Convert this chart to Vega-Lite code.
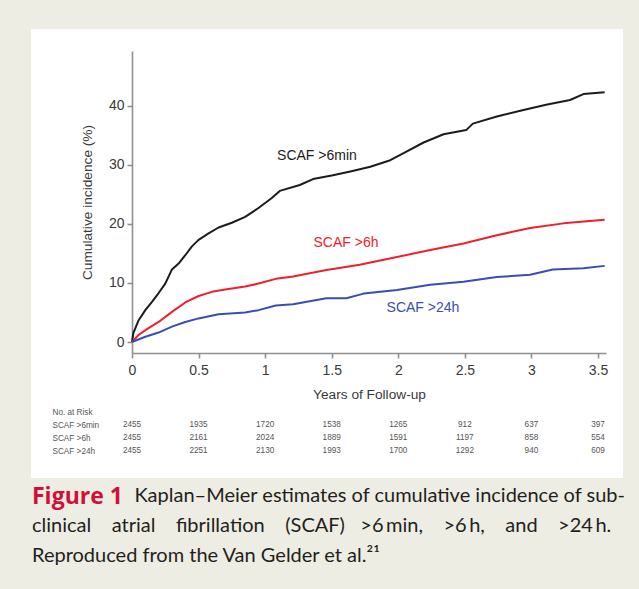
{
  "$schema": "https://vega.github.io/schema/vega-lite/v6.json",
  "width": 592,
  "height": 449,
  "autosize": {"type": "none"},
  "padding": {"left": 31, "top": 29, "right": 16, "bottom": 111},
  "background": "#EEEDE3",
  "config": {
    "view": {"fill": "white", "stroke": null},
    "font": "Liberation Sans"
  },
  "title": {
    "text": "Figure 1",
    "subtitle": [
      "\u200b\u00a0\u00a0\u00a0\u00a0\u00a0\u00a0\u00a0\u00a0\u00a0\u00a0\u00a0\u00a0\u00a0\u00a0\u00a0\u00a0\u00a0\u00a0\u00a0\u00a0Kaplan–Meier estimates of cumulative incidence of sub-",
      "clinical\u00a0\u00a0\u00a0\u00a0atrial\u00a0\u00a0\u00a0\u00a0fibrillation\u00a0\u00a0\u00a0\u00a0(SCAF)\u00a0\u00a0\u00a0>6\u2009min,\u00a0\u00a0\u00a0\u00a0>6\u2009h,\u00a0\u00a0\u00a0\u00a0and\u00a0\u00a0\u00a0\u00a0>24\u2009h.",
      "Reproduced from the Van Gelder et al.²¹"
    ],
    "orient": "bottom",
    "anchor": "start",
    "frame": "group",
    "offset": 8,
    "font": "Open Sans",
    "fontSize": 23,
    "fontWeight": "bold",
    "color": "#D0103A",
    "subtitleFont": "Lato",
    "subtitleFontSize": 20,
    "subtitleColor": "#231F20",
    "subtitleLineHeight": 30,
    "subtitlePadding": -23,
    "dx": 1
  },
  "datasets": {
    "curves": [
      {"series": ">6min", "years": 0, "pct": 0},
      {"series": ">6min", "years": 0.01, "pct": 1.5},
      {"series": ">6min", "years": 0.05, "pct": 3.7},
      {"series": ">6min", "years": 0.1, "pct": 5.4},
      {"series": ">6min", "years": 0.15, "pct": 6.8},
      {"series": ">6min", "years": 0.2, "pct": 8.3},
      {"series": ">6min", "years": 0.25, "pct": 9.9},
      {"series": ">6min", "years": 0.3, "pct": 12.3},
      {"series": ">6min", "years": 0.35, "pct": 13.3},
      {"series": ">6min", "years": 0.4, "pct": 14.7},
      {"series": ">6min", "years": 0.45, "pct": 16.2},
      {"series": ">6min", "years": 0.5, "pct": 17.3},
      {"series": ">6min", "years": 0.575, "pct": 18.4},
      {"series": ">6min", "years": 0.65, "pct": 19.4},
      {"series": ">6min", "years": 0.75, "pct": 20.2},
      {"series": ">6min", "years": 0.85, "pct": 21.2},
      {"series": ">6min", "years": 0.95, "pct": 22.7},
      {"series": ">6min", "years": 1.05, "pct": 24.4},
      {"series": ">6min", "years": 1.11, "pct": 25.6},
      {"series": ">6min", "years": 1.26, "pct": 26.6},
      {"series": ">6min", "years": 1.36, "pct": 27.6},
      {"series": ">6min", "years": 1.5, "pct": 28.2},
      {"series": ">6min", "years": 1.64, "pct": 28.9},
      {"series": ">6min", "years": 1.79, "pct": 29.7},
      {"series": ">6min", "years": 1.94, "pct": 30.8},
      {"series": ">6min", "years": 2.04, "pct": 32.0},
      {"series": ">6min", "years": 2.19, "pct": 33.8},
      {"series": ">6min", "years": 2.34, "pct": 35.2},
      {"series": ">6min", "years": 2.51, "pct": 35.9},
      {"series": ">6min", "years": 2.56, "pct": 37.0},
      {"series": ">6min", "years": 2.74, "pct": 38.2},
      {"series": ">6min", "years": 2.94, "pct": 39.3},
      {"series": ">6min", "years": 3.11, "pct": 40.2},
      {"series": ">6min", "years": 3.29, "pct": 41.0},
      {"series": ">6min", "years": 3.39, "pct": 42.0},
      {"series": ">6min", "years": 3.55, "pct": 42.3},
      {"series": ">6h", "years": 0, "pct": 0},
      {"series": ">6h", "years": 0.05, "pct": 1.2},
      {"series": ">6h", "years": 0.1, "pct": 2.0},
      {"series": ">6h", "years": 0.2, "pct": 3.4},
      {"series": ">6h", "years": 0.3, "pct": 5.1},
      {"series": ">6h", "years": 0.4, "pct": 6.7},
      {"series": ">6h", "years": 0.5, "pct": 7.8},
      {"series": ">6h", "years": 0.6, "pct": 8.5},
      {"series": ">6h", "years": 0.7, "pct": 8.9},
      {"series": ">6h", "years": 0.85, "pct": 9.4},
      {"series": ">6h", "years": 0.95, "pct": 9.9},
      {"series": ">6h", "years": 1.08, "pct": 10.7},
      {"series": ">6h", "years": 1.21, "pct": 11.1},
      {"series": ">6h", "years": 1.46, "pct": 12.2},
      {"series": ">6h", "years": 1.71, "pct": 13.1},
      {"series": ">6h", "years": 1.99, "pct": 14.4},
      {"series": ">6h", "years": 2.24, "pct": 15.6},
      {"series": ">6h", "years": 2.49, "pct": 16.7},
      {"series": ">6h", "years": 2.74, "pct": 18.1},
      {"series": ">6h", "years": 2.99, "pct": 19.3},
      {"series": ">6h", "years": 3.24, "pct": 20.1},
      {"series": ">6h", "years": 3.55, "pct": 20.7},
      {"series": ">24h", "years": 0, "pct": 0},
      {"series": ">24h", "years": 0.1, "pct": 0.9},
      {"series": ">24h", "years": 0.2, "pct": 1.6},
      {"series": ">24h", "years": 0.3, "pct": 2.6},
      {"series": ">24h", "years": 0.4, "pct": 3.4},
      {"series": ">24h", "years": 0.5, "pct": 4.0},
      {"series": ">24h", "years": 0.65, "pct": 4.7},
      {"series": ">24h", "years": 0.85, "pct": 5.0},
      {"series": ">24h", "years": 0.95, "pct": 5.4},
      {"series": ">24h", "years": 1.08, "pct": 6.2},
      {"series": ">24h", "years": 1.21, "pct": 6.4},
      {"series": ">24h", "years": 1.46, "pct": 7.4},
      {"series": ">24h", "years": 1.61, "pct": 7.4},
      {"series": ">24h", "years": 1.74, "pct": 8.2},
      {"series": ">24h", "years": 1.99, "pct": 8.8},
      {"series": ">24h", "years": 2.24, "pct": 9.7},
      {"series": ">24h", "years": 2.49, "pct": 10.2},
      {"series": ">24h", "years": 2.74, "pct": 11.0},
      {"series": ">24h", "years": 2.99, "pct": 11.4},
      {"series": ">24h", "years": 3.16, "pct": 12.3},
      {"series": ">24h", "years": 3.39, "pct": 12.5},
      {"series": ">24h", "years": 3.55, "pct": 12.9}
    ],
    "labels": [
      {"series": ">6min", "years": 1.389, "pct": 31.5, "label": "SCAF >6min"},
      {"series": ">6h", "years": 1.607, "pct": 16.8, "label": "SCAF >6h"},
      {"series": ">24h", "years": 2.185, "pct": 5.76, "label": "SCAF >24h"}
    ],
    "risk": [
      {"group": "SCAF >6min", "years": 0, "n": 2455},
      {"group": "SCAF >6min", "years": 0.5, "n": 1935},
      {"group": "SCAF >6min", "years": 1, "n": 1720},
      {"group": "SCAF >6min", "years": 1.5, "n": 1538},
      {"group": "SCAF >6min", "years": 2, "n": 1265},
      {"group": "SCAF >6min", "years": 2.5, "n": 912},
      {"group": "SCAF >6min", "years": 3, "n": 637},
      {"group": "SCAF >6min", "years": 3.5, "n": 397},
      {"group": "SCAF >6h", "years": 0, "n": 2455},
      {"group": "SCAF >6h", "years": 0.5, "n": 2161},
      {"group": "SCAF >6h", "years": 1, "n": 2024},
      {"group": "SCAF >6h", "years": 1.5, "n": 1889},
      {"group": "SCAF >6h", "years": 2, "n": 1591},
      {"group": "SCAF >6h", "years": 2.5, "n": 1197},
      {"group": "SCAF >6h", "years": 3, "n": 858},
      {"group": "SCAF >6h", "years": 3.5, "n": 554},
      {"group": "SCAF >24h", "years": 0, "n": 2455},
      {"group": "SCAF >24h", "years": 0.5, "n": 2251},
      {"group": "SCAF >24h", "years": 1, "n": 2130},
      {"group": "SCAF >24h", "years": 1.5, "n": 1993},
      {"group": "SCAF >24h", "years": 2, "n": 1700},
      {"group": "SCAF >24h", "years": 2.5, "n": 1292},
      {"group": "SCAF >24h", "years": 3, "n": 940},
      {"group": "SCAF >24h", "years": 3.5, "n": 609}
    ]
  },
  "layer": [
    {
      "layer": [
        {
          "data": {"name": "curves"},
          "mark": {"type": "line", "strokeWidth": 2, "strokeJoin": "round"},
          "encoding": {
            "x": {
              "field": "years",
              "type": "quantitative",
              "scale": {"domain": [0, 3.56], "range": [101, 575], "nice": false, "zero": false},
              "axis": {
                "values": [0, 0.5, 1, 1.5, 2, 2.5, 3, 3.5],
                "format": "~g",
                "orient": "bottom",
                "offset": -125,
                "title": "Years of Follow-up",
                "grid": false,
                "domainColor": "#909090",
                "domainWidth": 1.6,
                "tickColor": "#909090",
                "tickWidth": 1.6,
                "tickSize": 5,
                "labelFontSize": 14,
                "labelColor": "#3a3a3a",
                "labelPadding": 5,
                "labelFlush": false,
                "labelOverlap": false,
                "titleFontSize": 13.7,
                "titleFontWeight": "normal",
                "titleColor": "#3a3a3a",
                "titlePadding": 10
              }
            },
            "y": {
              "field": "pct",
              "type": "quantitative",
              "scale": {"domain": [-1.86, 49.3], "range": [324, 22], "nice": false, "zero": false},
              "axis": {
                "values": [0, 10, 20, 30, 40],
                "offset": -101,
                "title": "Cumulative incidence (%)",
                "grid": false,
                "domainColor": "#909090",
                "domainWidth": 1.6,
                "tickColor": "#909090",
                "tickWidth": 1.6,
                "tickSize": 5,
                "labelFontSize": 14,
                "labelColor": "#3a3a3a",
                "labelPadding": 3,
                "labelFlush": false,
                "labelOverlap": false,
                "titleFontSize": 13.7,
                "titleFontWeight": "normal",
                "titleColor": "#3a3a3a",
                "titlePadding": 14
              }
            },
            "color": {
              "field": "series",
              "type": "nominal",
              "scale": {"domain": [">6min", ">6h", ">24h"], "range": ["#1c1c1c", "#F0202A", "#3A4DB5"]},
              "legend": null
            },
            "order": {"field": "years", "type": "quantitative"}
          }
        },
        {
          "data": {"name": "labels"},
          "mark": {"type": "text", "fontSize": 14, "align": "center", "baseline": "middle"},
          "encoding": {
            "x": {"field": "years", "type": "quantitative"},
            "y": {"field": "pct", "type": "quantitative"},
            "text": {"field": "label", "type": "nominal"},
            "color": {"field": "series", "type": "nominal", "legend": null}
          }
        }
      ]
    },
    {
      "data": {"name": "risk"},
      "mark": {"type": "text", "fontSize": 8.2, "color": "#555555", "baseline": "middle", "align": "center"},
      "encoding": {
        "x": {"field": "years", "type": "quantitative"},
        "y": {
          "field": "group",
          "type": "ordinal",
          "scale": {"type": "point", "domain": ["No. at Risk", "SCAF >6min", "SCAF >6h", "SCAF >24h"], "range": [383, 422], "padding": 0},
          "axis": {
            "orient": "left",
            "offset": -101,
            "domain": false,
            "ticks": false,
            "grid": false,
            "labelAlign": "left",
            "labelBaseline": "middle",
            "labelPadding": 80,
            "labelFontSize": 8.2,
            "labelColor": "#555555",
            "title": null
          }
        },
        "text": {"field": "n", "type": "quantitative", "format": "d"}
      }
    }
  ],
  "resolve": {"scale": {"y": "independent"}}
}
